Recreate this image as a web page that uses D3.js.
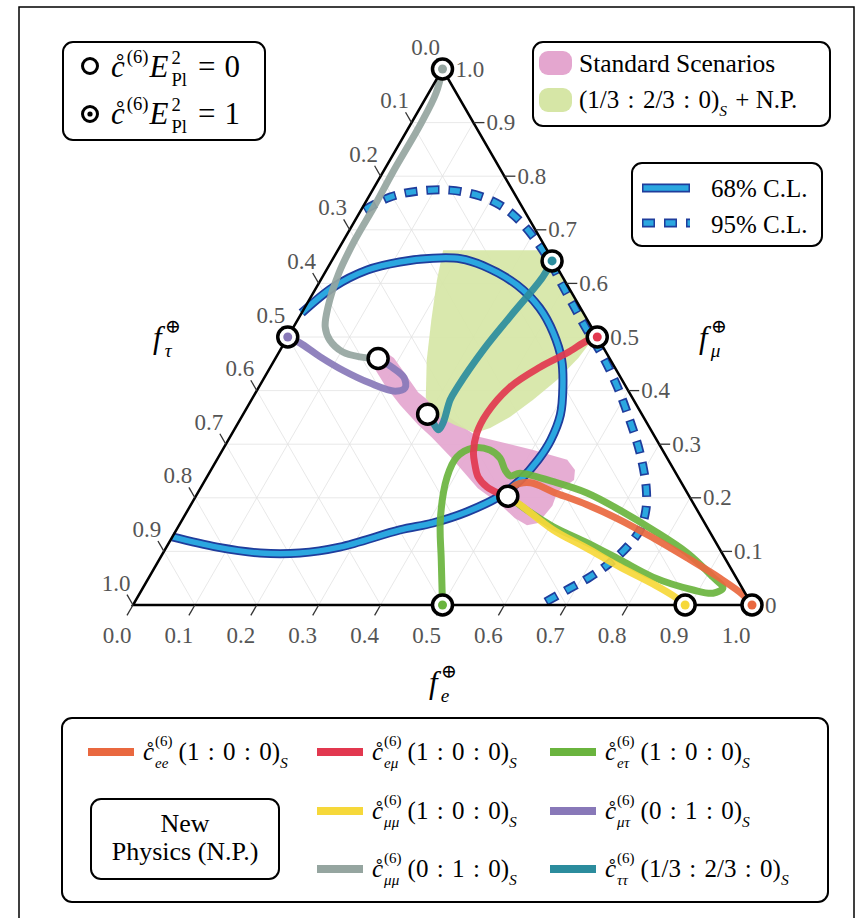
<!DOCTYPE html>
<html lang="en">
<head>
    <meta charset="UTF-8" />
    <title>Flavor triangle with new physics</title>
    <script src="https://d3js.org/d3.v7.min.js"></script>
    <style>
        body { margin: 0; background: #fff; }
    </style>
</head>
<body>
    <div id="container"></div>
    <script>
        // every point is [f_e, f_mu]; f_tau = 1 - f_e - f_mu
        const tickValues = [0, 0.1, 0.2, 0.3, 0.4, 0.5, 0.6, 0.7, 0.8, 0.9, 1.0]
        const rightLabels = ["0", "0.1", "0.2", "0.3", "0.4", "0.5", "0.6", "0.7", "0.8", "0.9", "1.0"]

        const contour68 = [[0.00, 0.545], [0.027, 0.593], [0.066, 0.625], [0.111, 0.640], [0.161, 0.647],
            [0.206, 0.646], [0.249, 0.633], [0.322, 0.597], [0.380, 0.554], [0.425, 0.508], [0.464, 0.457],
            [0.491, 0.407], [0.513, 0.355], [0.521, 0.308], [0.519, 0.271], [0.509, 0.233], [0.491, 0.203],
            [0.453, 0.174], [0.408, 0.153], [0.361, 0.140], [0.280, 0.108], [0.221, 0.097], [0.157, 0.097],
            [0.082, 0.108], [0.00, 0.127]]

        const contour95 = [[0.005, 0.737], [0.035, 0.761], [0.073, 0.772], [0.125, 0.774], [0.179, 0.763],
            [0.220, 0.746], [0.259, 0.722], [0.302, 0.688], [0.354, 0.640], [0.395, 0.597], [0.431, 0.560],
            [0.477, 0.513], [0.528, 0.463], [0.579, 0.407], [0.630, 0.345], [0.677, 0.284], [0.719, 0.220],
            [0.740, 0.177], [0.749, 0.140], [0.744, 0.108], [0.731, 0.078], [0.712, 0.052], [0.687, 0.028],
            [0.658, 0.0]]

        const standardRegion = [[0.154, 0.465], [0.164, 0.476], [0.191, 0.461], [0.229, 0.427], [0.262, 0.397],
            [0.290, 0.379], [0.338, 0.349], [0.398, 0.315], [0.502, 0.289], [0.566, 0.271], [0.588, 0.252],
            [0.596, 0.233], [0.580, 0.211], [0.585, 0.185], [0.578, 0.153], [0.562, 0.149], [0.536, 0.162],
            [0.500, 0.187], [0.448, 0.218], [0.378, 0.274], [0.326, 0.313], [0.293, 0.336], [0.245, 0.373],
            [0.203, 0.409], [0.173, 0.438]]

        const npRegion = [[0.170, 0.662], [0.338, 0.662], [0.496, 0.504], [0.489, 0.461], [0.475, 0.420],
            [0.455, 0.383], [0.434, 0.351], [0.412, 0.330], [0.392, 0.321], [0.352, 0.336], [0.322, 0.349],
            [0.280, 0.386], [0.246, 0.457], [0.216, 0.532], [0.188, 0.606]]

        const curveEE = [[0.504, 0.203], [0.505, 0.222], [0.528, 0.228], [0.573, 0.211], [0.640, 0.187],
            [0.707, 0.159], [0.778, 0.125], [0.851, 0.088], [0.923, 0.050], [0.976, 0.019], [1, 0]]
        const curveEMu = [[0.5, 0.5], [0.487, 0.493], [0.466, 0.470], [0.436, 0.444], [0.406, 0.407],
            [0.393, 0.358], [0.395, 0.321], [0.408, 0.284], [0.422, 0.261], [0.438, 0.239], [0.462, 0.220],
            [0.485, 0.209], [0.504, 0.203]]
        const curveETau = [[0.5, 0], [0.456, 0.084], [0.417, 0.159], [0.388, 0.239], [0.385, 0.276],
            [0.403, 0.293], [0.432, 0.289], [0.456, 0.274], [0.475, 0.252], [0.489, 0.241], [0.502, 0.246],
            [0.564, 0.230], [0.629, 0.209], [0.698, 0.177], [0.770, 0.140], [0.847, 0.097], [0.911, 0.052],
            [0.937, 0.032], [0.926, 0.022], [0.891, 0.028], [0.814, 0.052], [0.745, 0.084], [0.676, 0.116],
            [0.606, 0.146], [0.548, 0.177], [0.516, 0.196], [0.504, 0.203]]
        const curveMuMu100 = [[0.504, 0.203], [0.532, 0.187], [0.609, 0.140], [0.680, 0.106], [0.751, 0.071],
            [0.825, 0.037], [0.868, 0.015], [0.892, 0]]
        const curveMuTau = [[0.166, 0.460], [0.196, 0.444], [0.226, 0.424], [0.237, 0.405], [0.224, 0.399],
            [0.176, 0.414], [0.120, 0.438], [0.071, 0.463], [0.025, 0.489], [0, 0.5]]
        const curveMuMu010 = [[0, 1], [0.012, 0.955], [0.016, 0.899], [0.016, 0.806], [0.018, 0.743],
            [0.018, 0.681], [0.023, 0.619], [0.037, 0.556], [0.051, 0.519], [0.071, 0.494], [0.103, 0.472],
            [0.135, 0.463], [0.166, 0.460]]
        const curveTauTau = [[0.356, 0.642], [0.356, 0.612], [0.340, 0.537], [0.328, 0.476], [0.321, 0.407],
            [0.321, 0.383], [0.331, 0.340], [0.330, 0.327], [0.315, 0.340], [0.298, 0.356]]

        // E_Pl^2 = 1 end points and E_Pl^2 = 0 start points
        const endPoints = [[0, 1], [0, 0.5], [0.356, 0.642], [0.5, 0.5], [0.5, 0], [0.892, 0], [1, 0]]
        const endColors = ["#95a5a0", "#8878b8", "#2b8c9d", "#e2384f", "#6ab43e", "#f6d83a", "#e9683f"]
        const startPoints = [[0.166, 0.460], [0.298, 0.356], [0.504, 0.203]]

        const curves = [
            { data: curveMuMu010, color: "#95a5a0" },
            { data: curveMuTau, color: "#8878b8" },
            { data: curveTauTau, color: "#2b8c9d" },
            { data: curveETau, color: "#6ab43e" },
            { data: curveMuMu100, color: "#f6d83a" },
            { data: curveEE, color: "#e9683f" },
            { data: curveEMu, color: "#e2384f" }
        ]

        const SERIF = "'Liberation Serif', 'DejaVu Serif', serif"
        const width = 858, height = 918

        const svg = d3.select("#container").append("svg")
            .attr("width", width)
            .attr("height", height)

        const x = d3.scaleLinear().domain([0, 1]).range([133, 752])
        const y = d3.scaleLinear().domain([0, 1]).range([605, 69])
        const pt = d => [x(d[0] + d[1] / 2), y(d[1])]

        // math-ish text built from tspans (sup / sub can be stacked)
        function mathText(parent, x0, y0, parts, fs, fill) {
            const t = parent.append("text")
                .attr("font-family", SERIF)
                .attr("font-size", fs)
                .attr("fill", fill || "#000")
            let cx = x0, lastX = x0
            parts.forEach(p => {
                const span = t.append("tspan")
                    .attr("font-size", fs * (p.s || 1))
                    .attr("font-style", p.i ? "italic" : "normal")
                    .text(p.t)
                const px = p.stack ? lastX : cx + (p.dx || 0)
                span.attr("x", px).attr("y", y0 + (p.dy || 0) * fs)
                const w = span.node().getComputedTextLength()
                if (!p.stack) lastX = px
                cx = p.stack ? Math.max(cx, px + w) : px + w
            })
            return t
        }

        // outer frame
        svg.append("rect")
            .attr("x", 19).attr("y", 7)
            .attr("width", 835).attr("height", 940)
            .attr("fill", "none")
            .attr("stroke", "#000")
            .attr("stroke-width", 1.5)

        // grid
        const grid = svg.append("g")
            .attr("stroke", "#e2e2e2")
            .attr("stroke-width", 0.8)
        tickValues.slice(1, -1).forEach(v => {
            const segs = [
                [[v, 0], [v, 1 - v]],
                [[0, v], [1 - v, v]],
                [[1 - v, 0], [0, 1 - v]]
            ]
            segs.forEach(s => {
                const a = pt(s[0]), b = pt(s[1])
                grid.append("line")
                    .attr("x1", a[0]).attr("y1", a[1])
                    .attr("x2", b[0]).attr("y2", b[1])
            })
        })

        // regions
        const area = d3.line().x(d => pt(d)[0]).y(d => pt(d)[1]).curve(d3.curveLinearClosed)
        svg.append("path")
            .datum(standardRegion)
            .attr("d", area)
            .attr("fill", "#e4a6cf")
            .attr("opacity", 0.92)
        svg.append("path")
            .datum(npRegion)
            .attr("d", area)
            .attr("fill", "#d6e6a6")
            .attr("opacity", 0.92)

        const smooth = d3.line().x(d => pt(d)[0]).y(d => pt(d)[1]).curve(d3.curveCatmullRom.alpha(0.5))

        // confidence contours
        svg.append("path").datum(contour68).attr("d", smooth)
            .attr("fill", "none").attr("stroke", "#1f3d9c").attr("stroke-width", 9)
        svg.append("path").datum(contour68).attr("d", smooth)
            .attr("fill", "none").attr("stroke", "#2ba7e0").attr("stroke-width", 5.5)

        svg.append("path").datum(contour95).attr("d", smooth)
            .attr("fill", "none").attr("stroke", "#1f3d9c").attr("stroke-width", 9)
            .attr("stroke-dasharray", "13,9")
        svg.append("path").datum(contour95).attr("d", smooth)
            .attr("fill", "none").attr("stroke", "#2ba7e0").attr("stroke-width", 5.5)
            .attr("stroke-dasharray", "10,12").attr("stroke-dashoffset", -1.5)

        // new physics curves
        curves.forEach(c => {
            svg.append("path")
                .datum(c.data)
                .attr("d", smooth)
                .attr("fill", "none")
                .attr("stroke", c.color)
                .attr("stroke-width", 7)
                .attr("stroke-linecap", "round")
                .attr("stroke-linejoin", "round")
                .attr("opacity", 0.92)
        })

        // triangle
        const corners = [[0, 0], [1, 0], [0, 1]].map(pt)
        svg.append("path")
            .attr("d", "M" + corners.join("L") + "Z")
            .attr("fill", "none")
            .attr("stroke", "#000")
            .attr("stroke-width", 2.5)
            .attr("stroke-linejoin", "miter")

        // ticks and labels
        const ticks = svg.append("g").attr("stroke", "#333").attr("stroke-width", 1.3)
        const labels = svg.append("g")
            .attr("font-family", SERIF)
            .attr("font-size", 23)
            .attr("fill", "#555")
        const fmt = d3.format(".1f")

        tickValues.forEach((v, i) => {
            // f_e along the bottom
            const b = pt([v, 0])
            ticks.append("line").attr("x1", b[0]).attr("y1", b[1]).attr("x2", b[0] - 6).attr("y2", b[1] + 10.4)
            labels.append("text").attr("x", b[0] - 16).attr("y", b[1] + 30)
                .attr("text-anchor", "middle").attr("dominant-baseline", "central").text(fmt(v))

            // f_tau along the left side
            const l = pt([0, 1 - v])
            ticks.append("line").attr("x1", l[0]).attr("y1", l[1]).attr("x2", l[0] - 6).attr("y2", l[1] - 10.4)
            labels.append("text").attr("x", l[0] - 17).attr("y", l[1] - 22)
                .attr("text-anchor", "middle").attr("dominant-baseline", "central").text(fmt(v))

            // f_mu along the right side
            const r = pt([1 - v, v])
            ticks.append("line").attr("x1", r[0]).attr("y1", r[1]).attr("x2", r[0] + 11).attr("y2", r[1])
            labels.append("text").attr("x", r[0] + 13).attr("y", r[1])
                .attr("dominant-baseline", "central").text(rightLabels[i])
        })

        // axis titles
        const titleParts = sub => [{ t: "f", i: true }, { t: "\u2295", s: 0.62, dy: -0.48, dx: 3 },
            { t: sub, i: true, s: 0.62, dy: 0.3, stack: true }]
        mathText(svg, 153, 348, titleParts("\u03c4"), 31)
        mathText(svg, 699, 348, titleParts("\u03bc"), 31)
        mathText(svg, 429, 693, titleParts("e"), 31)

        // markers
        const marks = svg.append("g")
        endPoints.forEach((d, i) => {
            const p = pt(d)
            marks.append("circle").attr("cx", p[0]).attr("cy", p[1]).attr("r", 10)
                .attr("fill", "#fff").attr("stroke", "#000").attr("stroke-width", 3.5)
            marks.append("circle").attr("cx", p[0]).attr("cy", p[1]).attr("r", 4.5)
                .attr("fill", endColors[i])
        })
        startPoints.forEach(d => {
            const p = pt(d)
            marks.append("circle").attr("cx", p[0]).attr("cy", p[1]).attr("r", 10)
                .attr("fill", "#fff").attr("stroke", "#000").attr("stroke-width", 3.5)
        })

        // legend boxes
        function box(x0, y0, w, h) {
            svg.append("rect")
                .attr("x", x0).attr("y", y0).attr("width", w).attr("height", h)
                .attr("rx", 10)
                .attr("fill", "#fff")
                .attr("stroke", "#000")
                .attr("stroke-width", 2)
        }
        const ring = "c\u030a"
        const sp = "\u2004"

        // E_Pl legend
        box(63, 42, 202, 98)
        svg.append("circle").attr("cx", 90).attr("cy", 66).attr("r", 7.5)
            .attr("fill", "#fff").attr("stroke", "#000").attr("stroke-width", 3)
        svg.append("circle").attr("cx", 90).attr("cy", 114).attr("r", 7.5)
            .attr("fill", "#fff").attr("stroke", "#000").attr("stroke-width", 3)
        svg.append("circle").attr("cx", 90).attr("cy", 114).attr("r", 2.6).attr("fill", "#000")
        const eplParts = v => [{ t: ring, i: true }, { t: "(6)", s: 0.6, dy: -0.45, dx: 2 }, { t: "E", i: true, dx: 1 },
            { t: "2", s: 0.6, dy: -0.42, dx: 3 }, { t: "Pl", s: 0.6, dy: 0.3, stack: true },
            { t: "=", dx: 11 }, { t: String(v), dx: 9 }]
        mathText(svg, 111, 77, eplParts(0), 31)
        mathText(svg, 111, 124, eplParts(1), 31)

        // scenario legend
        box(533, 42, 297, 84)
        svg.append("rect").attr("x", 539).attr("y", 51).attr("width", 33).attr("height", 24).attr("rx", 9)
            .attr("fill", "#e4a6cf")
        svg.append("rect").attr("x", 539).attr("y", 88).attr("width", 33).attr("height", 24).attr("rx", 9)
            .attr("fill", "#d6e6a6")
        mathText(svg, 579, 72, [{ t: "Standard Scenarios" }], 25.5)
        mathText(svg, 579, 108, [{ t: "(1/3" + sp + ":" + sp + "2/3" + sp + ":" + sp + "0)" },
            { t: "S", i: true, s: 0.62, dy: 0.3 }, { t: " + N.P.", dx: 2 }], 25)

        // C.L. legend
        box(632, 163, 190, 83)
        svg.append("line").attr("x1", 642).attr("x2", 690).attr("y1", 188).attr("y2", 188)
            .attr("stroke", "#1f3d9c").attr("stroke-width", 9)
        svg.append("line").attr("x1", 643.5).attr("x2", 688.5).attr("y1", 188).attr("y2", 188)
            .attr("stroke", "#2ba7e0").attr("stroke-width", 5.5)
        svg.append("line").attr("x1", 642).attr("x2", 690).attr("y1", 223).attr("y2", 223)
            .attr("stroke", "#1f3d9c").attr("stroke-width", 9).attr("stroke-dasharray", "13,9")
        svg.append("line").attr("x1", 642).attr("x2", 690).attr("y1", 223).attr("y2", 223)
            .attr("stroke", "#2ba7e0").attr("stroke-width", 5.5).attr("stroke-dasharray", "10,12")
            .attr("stroke-dashoffset", -1.5)
        mathText(svg, 711, 197, [{ t: "68% C.L." }], 25)
        mathText(svg, 711, 233, [{ t: "95% C.L." }], 25)

        // curve legend
        box(62, 718, 766, 184)
        box(91, 799, 188, 80)
        svg.append("text").attr("x", 185).attr("y", 832).attr("text-anchor", "middle")
            .attr("font-family", SERIF).attr("font-size", 26).text("New")
        svg.append("text").attr("x", 185).attr("y", 860).attr("text-anchor", "middle")
            .attr("font-family", SERIF).attr("font-size", 26).text("Physics (N.P.)")

        const src100 = "(1" + sp + ":" + sp + "0" + sp + ":" + sp + "0)"
        const src010 = "(0" + sp + ":" + sp + "1" + sp + ":" + sp + "0)"
        const srcTT = "(1/3" + sp + ":" + sp + "2/3" + sp + ":" + sp + "0)"
        const legendEntries = [
            { col: 0, row: 0, color: "#e9683f", sub: "ee", src: src100 },
            { col: 1, row: 0, color: "#e2384f", sub: "e\u03bc", src: src100 },
            { col: 2, row: 0, color: "#6ab43e", sub: "e\u03c4", src: src100 },
            { col: 1, row: 1, color: "#f6d83a", sub: "\u03bc\u03bc", src: src100 },
            { col: 2, row: 1, color: "#8878b8", sub: "\u03bc\u03c4", src: src010 },
            { col: 1, row: 2, color: "#95a5a0", sub: "\u03bc\u03bc", src: src010 },
            { col: 2, row: 2, color: "#2b8c9d", sub: "\u03c4\u03c4", src: srcTT }
        ]
        const colX = [88, 317, 550]
        const rowY = [752, 811, 869]
        legendEntries.forEach(e => {
            const lx = colX[e.col], ly = rowY[e.row]
            svg.append("line").attr("x1", lx).attr("x2", lx + 46).attr("y1", ly).attr("y2", ly)
                .attr("stroke", e.color).attr("stroke-width", 8)
            mathText(svg, lx + 55, ly + 8, [{ t: ring, i: true }, { t: "(6)", s: 0.6, dy: -0.55, dx: 1 },
                { t: e.sub, i: true, s: 0.6, dy: 0.3, stack: true }, { t: e.src, dx: 6 },
                { t: "S", i: true, s: 0.62, dy: 0.3 }], 25)
        })
    </script>
</body>
</html>
